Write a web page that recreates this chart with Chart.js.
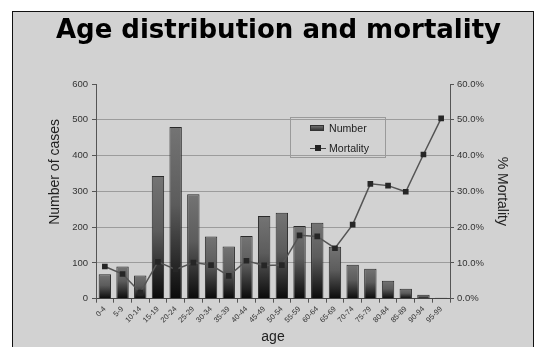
<!DOCTYPE html>
<html>
<head>
<meta charset="utf-8">
<script src="https://cdn.jsdelivr.net/npm/chart.js@4.4.0/dist/chart.umd.min.js"></script>
<style>
  html, body { margin: 0; padding: 0; background: #fff; overflow: hidden; }
  #wrap { position: relative; width: 534px; height: 347px; }
  #slide { position: absolute; left: 12px; top: 11px; width: 520px; height: 350px;
           border: 1px solid #111; border-bottom: none; background: #d2d2d2; }
  #chart { position: absolute; left: 0; top: 0; }
  #legend { position: absolute; left: 290px; top: 117px; width: 94px; height: 39px;
            border: 1px solid #9a9a9a; font: 10.6px "Liberation Sans", Arial, sans-serif; color: #222; }
  .item { position: absolute; left: 19px; height: 12px; line-height: 12px; }
  .item span { position: absolute; left: 19px; top: 0; white-space: nowrap; }
  .barkey { position: absolute; left: 0; top: 3px; width: 14px; height: 6px;
            background: linear-gradient(#707070, #3a3a3a); border: 1px solid #333; box-sizing: border-box; }
  .linekey { position: absolute; left: 0; top: 6px; width: 16px; height: 1px; background: #444; }
  .linekey i { position: absolute; left: 5px; top: -3px; width: 6px; height: 6px; background: #222; }
</style>
</head>
<body>
<div id="wrap">
  <div id="slide"></div>
  <canvas id="chart" width="534" height="347"></canvas>
  <div id="legend">
    <div class="item" style="top:4px"><div class="barkey"></div><span>Number</span></div>
    <div class="item" style="top:24px"><div class="linekey"><i></i></div><span>Mortality</span></div>
  </div>
</div>
<script>
const ages = ["0-4", "5-9", "10-14", "15-19", "20-24", "25-29", "30-34", "35-39", "40-44", "45-49",
    "50-54", "55-59", "60-64", "65-69", "70-74", "75-79", "80-84", "85-89", "90-94", "95-99"];
const cases = [68, 90, 65, 343, 480, 292, 174, 146, 175, 231, 240, 203, 212, 145, 95, 84, 50, 28, 11, 3];
const mortality = [9.0, 6.9, 1.7, 10.3, 8.2, 10.1, 9.4, 6.4, 10.6, 9.3, 9.4, 17.7, 17.4, 14.1, 20.7, 32.1, 31.6, 29.9, 40.3, 50.4];
const casesTicks = [0, 100, 200, 300, 400, 500, 600];
const mortalityTicks = [0, 10, 20, 30, 40, 50, 60];

const axisFont = { family: "'Liberation Sans', Arial, sans-serif", size: 9.5 };
const titleFont = { family: "'Liberation Sans', Arial, sans-serif", size: 14 };

// each bar fades from grey at its top to almost black at the base
function barFill(c) {
    if (c.type !== 'data' || !c.chart.chartArea) return '#555';
    const y = c.chart.scales.y;
    const top = y.getPixelForValue(c.raw);
    const bottom = y.getPixelForValue(0);
    const g = c.chart.ctx.createLinearGradient(0, top, 0, bottom);
    g.addColorStop(0, '#747474');
    g.addColorStop(0.45, '#5c5c5c');
    g.addColorStop(1, '#0a0a0a');
    return g;
}

new Chart(document.getElementById('chart'), {
    type: 'bar',
    data: {
        labels: ages,
        datasets: [{
            type: 'line',
            label: 'Mortality',
            data: mortality,
            yAxisID: 'y2',
            order: 1,
            borderColor: '#555',
            borderWidth: 1.5,
            tension: 0,
            pointStyle: 'rect',
            pointRadius: 4,
            pointBackgroundColor: '#262626',
            pointBorderColor: '#262626',
            pointBorderWidth: 0
        }, {
            label: 'Number',
            data: cases,
            yAxisID: 'y',
            order: 2,
            backgroundColor: barFill,
            borderColor: '#2a2a2a',
            borderWidth: 1,
            categoryPercentage: 1,
            barPercentage: 0.7
        }]
    },
    options: {
        responsive: false,
        animation: false,
        layout: { padding: { left: 42.6, right: 19.6, top: 11, bottom: 0 } },
        plugins: {
            legend: { display: false },
            tooltip: { enabled: false },
            title: {
                display: true,
                text: 'Age distribution and mortality',
                color: '#000',
                font: { family: "'DejaVu Sans', sans-serif", size: 26, weight: 'bold' },
                padding: { top: 4.4, bottom: 37.4 }
            }
        },
        scales: {
            x: {
                afterFit: s => { s.height = 48.3; },
                grid: { drawOnChartArea: false, tickLength: 4, tickColor: '#555' },
                border: { color: '#444', width: 1 },
                ticks: { autoSkip: false, minRotation: 45, maxRotation: 45, padding: 2,
                         color: '#333', font: { family: "'Liberation Sans', Arial, sans-serif", size: 7.5 } },
                title: { display: true, text: 'age', color: '#222', font: titleFont, padding: { top: 0, bottom: 1 } }
            },
            y: {
                position: 'left',
                min: 0, max: 600,
                afterFit: s => { s.width = 53.4; },
                afterBuildTicks: s => { s.ticks = casesTicks.map(v => ({ value: v })); },
                grid: {
                    color: c => (c.tick && (c.tick.value === 0 || c.tick.value === 600)) ? 'rgba(0,0,0,0)' : '#9c9c9c',
                    tickColor: '#555', tickLength: 4
                },
                border: { color: '#555', width: 1 },
                ticks: { padding: 4, color: '#333', font: axisFont },
                title: { display: true, text: '          Number of cases', color: '#222', font: titleFont, padding: { top: 4, bottom: 4 } }
            },
            y2: {
                position: 'right',
                min: 0, max: 60,
                afterFit: s => { s.width = 64.4; },
                afterBuildTicks: s => { s.ticks = mortalityTicks.map(v => ({ value: v })); },
                grid: { drawOnChartArea: false, tickColor: '#555', tickLength: 4 },
                border: { color: '#555', width: 1 },
                ticks: { padding: 3, color: '#333', font: axisFont, callback: v => v.toFixed(1) + '%' },
                title: { display: true, text: '% Mortality', color: '#222', font: titleFont, padding: { top: 4, bottom: 4 } }
            }
        }
    }
});
</script>
</body>
</html>
